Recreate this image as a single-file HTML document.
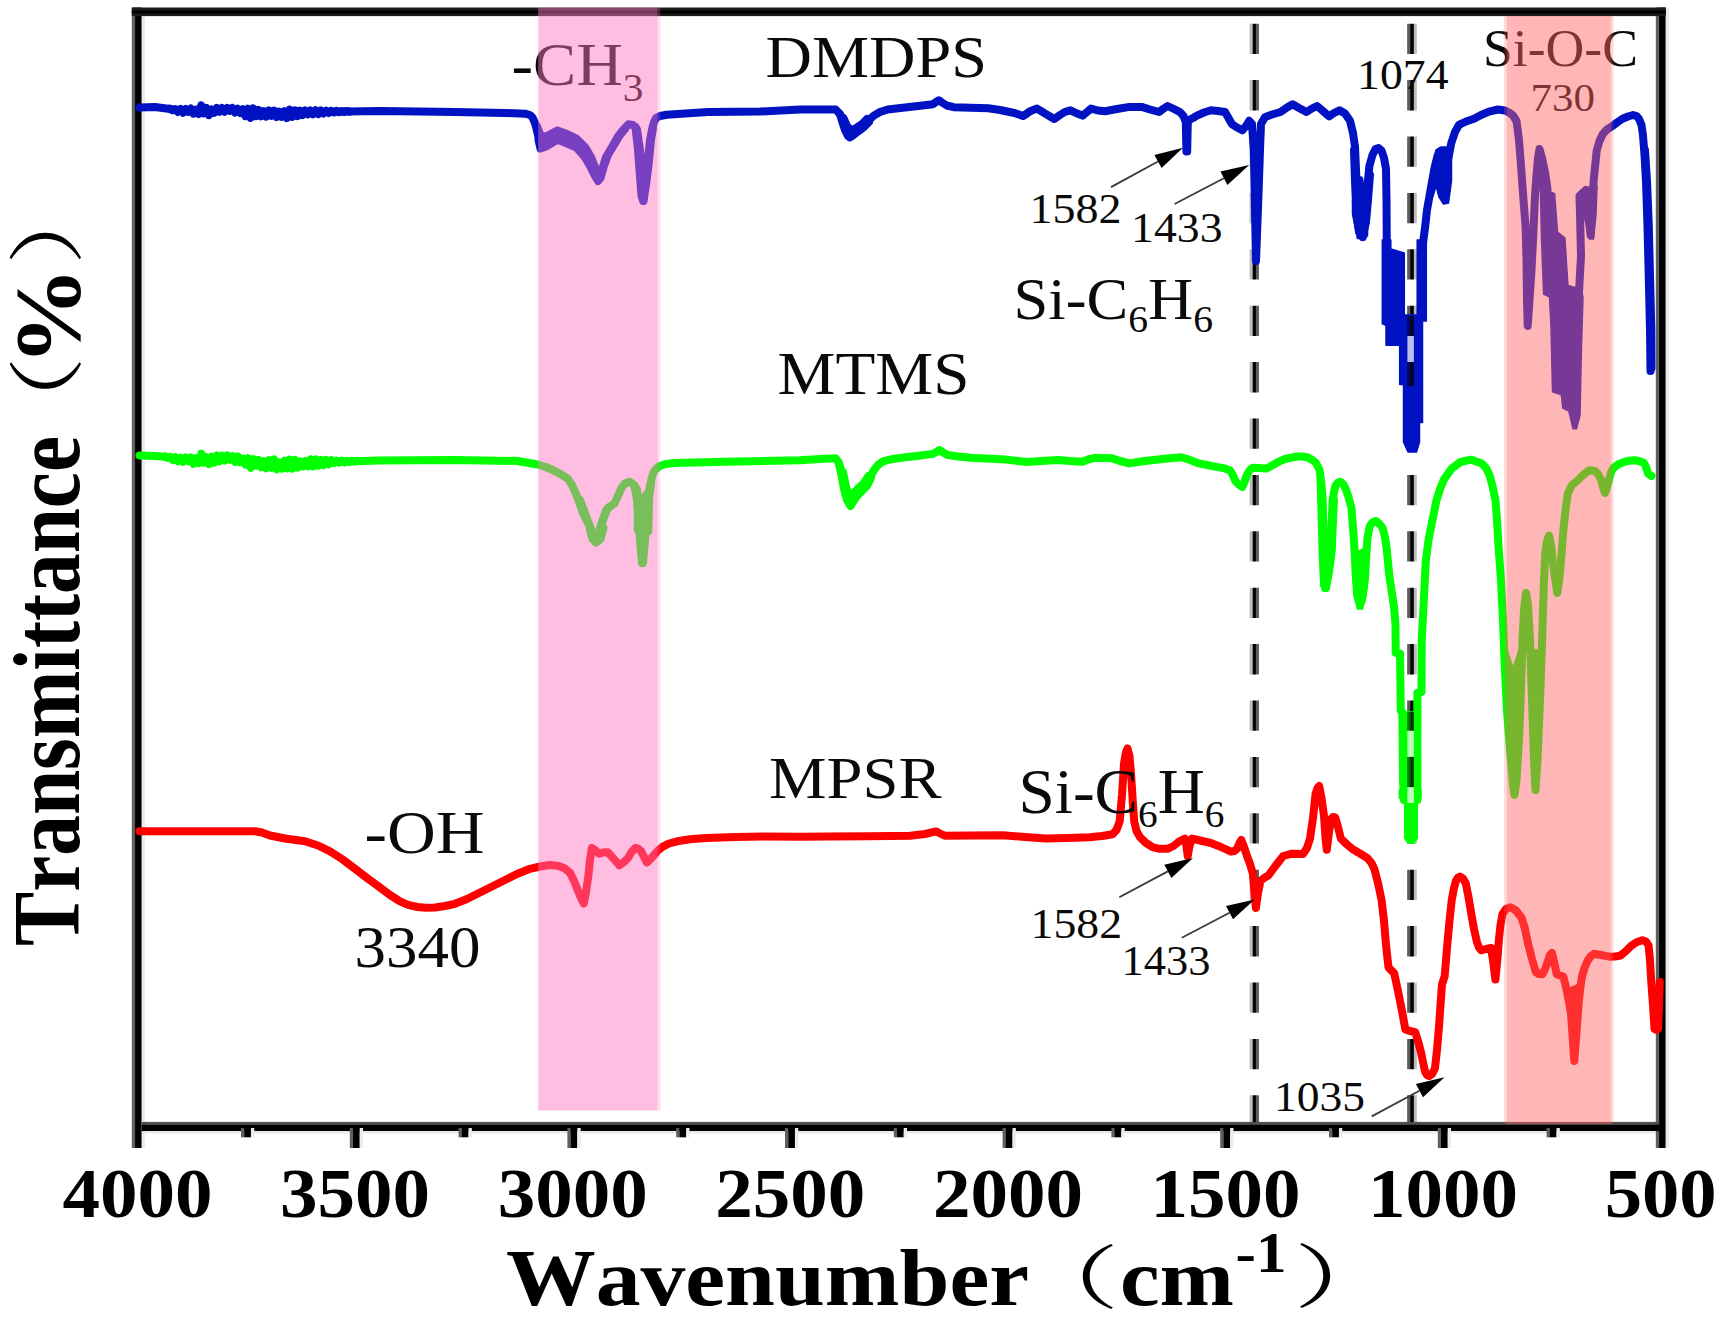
<!DOCTYPE html>
<html lang="en"><head><meta charset="utf-8"><title>FTIR spectra</title>
<style>html,body{margin:0;padding:0;background:#fff;}body{width:1728px;height:1319px;overflow:hidden;}svg{display:block;}text{font-family:"Liberation Serif","Noto Serif CJK SC",serif;fill:#0a0a0a;font-kerning:none;}.b{font-weight:bold;fill:#000;}.cjk{font-family:"Liberation Serif","Noto Serif CJK SC",serif;font-weight:400;fill:#000;}</style></head><body>
<svg width="1728" height="1319" viewBox="0 0 1728 1319">
<rect width="1728" height="1319" fill="#fff"/>
<g id="frame">
<rect x="131.80" y="7.5" width="3.4" height="1140.5" fill="#5f5f5f"/><rect x="135.05" y="7.5" width="6.7" height="1140.5" fill="#000"/><rect x="141.75" y="7.5" width="3.3" height="1140.5" fill="#ececec"/>
<rect x="1655.80" y="7.5" width="3.4" height="1140.5" fill="#5f5f5f"/><rect x="1659.05" y="7.5" width="6.7" height="1140.5" fill="#000"/><rect x="1665.75" y="7.5" width="3.3" height="1140.5" fill="#ececec"/>
<rect x="131.8" y="7.5" width="1534" height="8.6" fill="#1c1c1c"/>
<rect x="131.8" y="10.4" width="1534" height="3" fill="#000"/>
<rect x="141.6" y="1121.9" width="1517.5" height="3" fill="#505050"/>
<rect x="141.6" y="1124.7" width="1517.5" height="6.4" fill="#000"/>
<rect x="145" y="1131.1" width="1510" height="2.4" fill="#e8e8e8"/>
</g>
<g id="ticks">
<rect x="349.80" y="1128" width="3.4" height="20" fill="#5f5f5f"/><rect x="353.05" y="1128" width="6.7" height="20" fill="#000"/><rect x="359.75" y="1128" width="3.3" height="20" fill="#ececec"/>
<rect x="567.40" y="1128" width="3.4" height="20" fill="#5f5f5f"/><rect x="570.65" y="1128" width="6.7" height="20" fill="#000"/><rect x="577.35" y="1128" width="3.3" height="20" fill="#ececec"/>
<rect x="785.00" y="1128" width="3.4" height="20" fill="#5f5f5f"/><rect x="788.25" y="1128" width="6.7" height="20" fill="#000"/><rect x="794.95" y="1128" width="3.3" height="20" fill="#ececec"/>
<rect x="1002.60" y="1128" width="3.4" height="20" fill="#5f5f5f"/><rect x="1005.85" y="1128" width="6.7" height="20" fill="#000"/><rect x="1012.55" y="1128" width="3.3" height="20" fill="#ececec"/>
<rect x="1220.20" y="1128" width="3.4" height="20" fill="#5f5f5f"/><rect x="1223.45" y="1128" width="6.7" height="20" fill="#000"/><rect x="1230.15" y="1128" width="3.3" height="20" fill="#ececec"/>
<rect x="1437.80" y="1128" width="3.4" height="20" fill="#5f5f5f"/><rect x="1441.05" y="1128" width="6.7" height="20" fill="#000"/><rect x="1447.75" y="1128" width="3.3" height="20" fill="#ececec"/>
<rect x="241.00" y="1128" width="3.4" height="9.299999999999955" fill="#5f5f5f"/><rect x="244.25" y="1128" width="6.7" height="9.299999999999955" fill="#000"/><rect x="250.95" y="1128" width="3.3" height="9.299999999999955" fill="#ececec"/>
<rect x="458.60" y="1128" width="3.4" height="9.299999999999955" fill="#5f5f5f"/><rect x="461.85" y="1128" width="6.7" height="9.299999999999955" fill="#000"/><rect x="468.55" y="1128" width="3.3" height="9.299999999999955" fill="#ececec"/>
<rect x="676.20" y="1128" width="3.4" height="9.299999999999955" fill="#5f5f5f"/><rect x="679.45" y="1128" width="6.7" height="9.299999999999955" fill="#000"/><rect x="686.15" y="1128" width="3.3" height="9.299999999999955" fill="#ececec"/>
<rect x="893.80" y="1128" width="3.4" height="9.299999999999955" fill="#5f5f5f"/><rect x="897.05" y="1128" width="6.7" height="9.299999999999955" fill="#000"/><rect x="903.75" y="1128" width="3.3" height="9.299999999999955" fill="#ececec"/>
<rect x="1111.40" y="1128" width="3.4" height="9.299999999999955" fill="#5f5f5f"/><rect x="1114.65" y="1128" width="6.7" height="9.299999999999955" fill="#000"/><rect x="1121.35" y="1128" width="3.3" height="9.299999999999955" fill="#ececec"/>
<rect x="1329.00" y="1128" width="3.4" height="9.299999999999955" fill="#5f5f5f"/><rect x="1332.25" y="1128" width="6.7" height="9.299999999999955" fill="#000"/><rect x="1338.95" y="1128" width="3.3" height="9.299999999999955" fill="#ececec"/>
<rect x="1546.60" y="1128" width="3.4" height="9.299999999999955" fill="#5f5f5f"/><rect x="1549.85" y="1128" width="6.7" height="9.299999999999955" fill="#000"/><rect x="1556.55" y="1128" width="3.3" height="9.299999999999955" fill="#ececec"/>
</g>
<g id="labels-under">
<text x="511.5" y="85" font-size="61" textLength="132" lengthAdjust="spacingAndGlyphs">-CH<tspan font-size="39" dy="15.5">3</tspan></text>
<text x="1483" y="65.7" font-size="52" textLength="155" lengthAdjust="spacingAndGlyphs">Si-O-C</text>
<text x="1530.5" y="111.3" font-size="39" textLength="64.5" lengthAdjust="spacingAndGlyphs">730</text>
</g>
<g id="dashes" stroke="#000" stroke-dasharray="30.3 26.1" fill="none">
<line x1="1251.15" y1="23.7" x2="1251.15" y2="1122" stroke-width="3.1" stroke-opacity="0.26"/>
<line x1="1254.3" y1="23.7" x2="1254.3" y2="1122" stroke-width="3.3"/>
<line x1="1257.4" y1="23.7" x2="1257.4" y2="1122" stroke-width="3.1" stroke-opacity="0.64"/>
<line x1="1408.7" y1="23.7" x2="1408.7" y2="1122" stroke-width="3.1" stroke-opacity="0.64"/>
<line x1="1412" y1="23.7" x2="1412" y2="1122" stroke-width="3.7"/>
<line x1="1415.3" y1="23.7" x2="1415.3" y2="1122" stroke-width="3.1" stroke-opacity="0.26"/>
</g>
<g id="red" fill="none" stroke="#ff0000" stroke-width="8.0" stroke-linejoin="round" stroke-linecap="round">
<polyline points="139.5,831.3 200.0,831.3 255.0,831.3 262.0,832.5 270.0,835.5 285.0,838.5 305.0,841.3 318.0,845.5 330.0,851.3 342.0,859.0 355.0,868.8 367.0,878.0 380.0,887.5 390.0,895.0 400.0,901.3 408.0,904.8 417.5,907.0 426.0,907.8 435.0,907.5 445.0,906.0 455.0,903.8 467.0,899.0 480.0,892.5 492.0,886.5 505.0,880.0 517.0,874.0 530.0,868.8 540.0,866.5 550.0,865.0 558.6,866.0 564.0,868.0 570.0,872.6 574.5,882.0 578.8,892.8 581.5,899.0 583.8,903.5 586.0,892.0 588.4,875.5 590.0,860.0 591.9,848.0 595.0,850.0 599.0,853.8 603.0,852.5 607.8,852.3 613.0,858.0 619.4,865.4 624.0,862.0 628.0,858.0 631.5,852.0 635.3,848.0 638.0,848.5 641.0,851.0 644.0,857.0 646.8,862.5 650.0,859.5 654.0,855.2 658.0,850.5 662.8,846.6 669.0,843.5 677.2,841.3 690.0,839.3 706.2,837.9 735.0,837.0 764.0,836.4 800.0,836.8 830.0,836.5 870.0,836.2 910.0,835.7 925.0,834.0 936.0,831.4 940.0,833.5 944.7,835.7 970.0,835.5 1002.5,835.2 1025.0,837.0 1046.0,838.6 1068.0,838.0 1089.4,837.2 1102.0,836.0 1112.5,834.3 1116.5,830.0 1119.7,821.3 1122.0,795.0 1124.0,763.4 1126.0,752.0 1127.5,748.5 1129.5,756.0 1131.3,777.9 1133.0,805.0 1134.2,821.3 1136.5,831.0 1140.0,837.2 1146.0,843.0 1153.0,847.3 1160.0,848.8 1167.5,848.8 1173.5,846.0 1179.0,841.5 1184.8,838.6 1186.5,846.0 1187.7,856.0 1189.5,846.0 1192.0,838.6 1200.0,840.5 1210.9,843.0 1221.0,847.0 1231.0,851.7 1234.5,851.0 1237.0,848.8 1239.5,843.0 1241.3,840.0 1244.0,847.0 1247.0,856.0 1250.0,864.0 1252.8,873.4 1254.5,892.0 1255.9,908.0 1258.0,893.0 1260.5,881.0 1264.0,878.0 1268.4,875.5 1275.0,866.5 1283.2,856.0 1292.0,853.7 1303.0,854.0 1307.0,848.0 1310.0,838.6 1313.0,818.0 1315.6,793.7 1317.5,788.0 1319.2,786.0 1321.5,798.0 1324.0,816.0 1325.5,838.0 1326.8,849.8 1329.0,832.0 1331.0,819.0 1333.0,817.0 1335.2,817.5 1338.0,827.0 1340.9,838.6 1347.0,844.5 1353.5,849.8 1360.0,853.5 1367.5,858.2 1371.5,863.0 1374.5,869.5 1378.0,883.0 1381.6,900.3 1384.0,921.0 1385.8,942.4 1387.3,957.0 1388.6,967.7 1391.5,970.5 1394.2,973.3 1396.3,983.0 1398.4,993.0 1402.0,1011.0 1405.4,1029.4 1410.0,1031.0 1415.2,1032.2 1418.0,1041.0 1420.9,1051.9 1423.0,1062.0 1425.0,1071.5 1427.0,1075.0 1429.3,1076.0 1432.0,1074.0 1434.9,1068.7 1437.0,1050.0 1439.0,1026.6 1440.5,1005.0 1442.0,984.5 1444.7,976.0 1446.0,960.0 1447.5,942.4 1449.5,921.0 1451.7,900.3 1454.0,888.0 1456.0,880.7 1458.0,877.5 1460.0,876.5 1463.0,878.5 1465.8,883.5 1468.5,897.0 1471.4,914.4 1474.0,929.0 1477.0,942.4 1479.0,947.5 1481.2,950.3 1486.0,949.0 1491.0,948.0 1493.0,960.0 1495.4,979.5 1497.3,960.0 1498.9,939.6 1500.5,925.0 1502.5,914.0 1506.0,909.0 1510.5,907.3 1516.0,910.5 1521.7,918.0 1525.0,929.0 1528.0,943.5 1532.0,959.0 1535.8,972.0 1539.0,974.0 1542.4,974.3 1545.5,968.0 1547.9,961.0 1550.0,955.0 1551.9,953.0 1554.0,961.0 1556.7,974.3 1560.0,975.5 1563.3,976.5 1566.0,987.0 1568.8,1000.7 1571.0,1013.8 1572.5,1035.0 1574.3,1061.0 1576.3,1035.0 1578.7,1002.9 1580.3,988.0 1582.0,976.5 1584.5,968.0 1587.5,961.0 1590.5,956.5 1594.0,953.8 1601.0,955.0 1609.5,956.7 1615.0,956.5 1620.4,955.6 1626.0,951.0 1631.4,945.7 1637.0,942.0 1642.4,940.2 1646.0,941.5 1648.6,945.7 1650.0,960.0 1651.2,980.9 1653.0,1005.0 1654.5,1029.0 1656.5,1030.0 1658.0,1029.0 1659.0,1005.0 1659.8,982.0"/>
<polygon points="1565.0,985.0 1570.0,988.0 1577.0,985.0 1579.0,1003.0 1577.0,1020.0 1571.0,1020.0 1568.0,1003.0" fill="#ff0000" stroke-width="1.5"/>
</g>
<g id="green" fill="none" stroke="#00ff00" stroke-width="8.0" stroke-linejoin="round" stroke-linecap="round">
<polyline points="139.5,455.5 155.0,456.0 167.5,457.0 180.0,460.0 190.0,459.0 196.0,461.5 202.5,458.0 208.0,461.5 215.0,459.0 230.0,457.5 240.0,460.0 250.0,463.0 257.0,461.5 263.0,465.0 270.0,463.0 280.0,465.5 290.0,464.5 300.0,464.0 330.0,462.0 380.0,460.5 455.0,460.0 517.5,461.0 537.5,464.5 546.0,467.0 555.0,471.0 562.0,475.0 567.7,478.5 572.0,485.0 576.4,494.7 583.3,513.8 590.3,527.6 593.0,535.0 595.5,542.0 598.0,535.0 602.4,520.7 606.0,510.3 610.0,506.5 614.6,503.3 618.0,496.0 621.5,487.7 625.0,483.5 629.3,481.6 633.0,484.0 637.0,489.4 639.0,510.0 640.6,531.0 642.4,563.0 644.0,545.0 645.8,531.0 647.5,510.0 649.3,489.4 651.5,479.0 653.6,472.0 656.5,468.5 659.7,466.0 666.0,464.0 673.6,463.0 725.7,461.7 774.3,460.8 800.0,460.3 820.0,459.0 835.6,458.2 838.5,462.0 840.8,468.6 843.0,478.0 845.0,489.4 847.5,498.0 850.3,504.0 853.0,499.0 856.4,493.0 861.0,489.0 866.8,484.2 870.0,478.0 873.8,470.3 878.0,465.0 882.4,461.7 890.0,459.5 901.5,457.8 917.0,456.0 932.8,453.9 936.5,452.0 939.7,450.0 943.0,452.3 946.7,454.7 958.0,456.5 971.0,457.8 1005.7,459.6 1026.5,462.0 1042.0,461.0 1057.8,460.0 1070.0,461.0 1082.6,461.7 1088.0,459.5 1094.7,457.8 1112.0,458.2 1120.0,461.0 1129.4,463.4 1141.0,461.5 1153.7,460.0 1167.0,458.5 1181.5,457.3 1190.0,460.0 1198.9,463.4 1207.0,465.0 1216.2,466.9 1223.0,468.0 1230.0,470.3 1232.8,475.0 1235.3,480.8 1238.5,484.5 1242.3,487.0 1244.5,482.0 1246.6,475.6 1249.5,470.5 1252.7,467.7 1259.0,468.0 1266.6,468.6 1272.0,465.5 1278.8,461.7 1285.0,459.0 1292.6,457.3 1298.0,456.5 1303.0,456.5 1308.0,457.5 1312.0,459.7 1316.0,463.0 1319.7,470.3 1321.5,485.0 1322.7,500.6 1323.8,540.0 1325.0,588.0 1327.0,575.0 1330.3,561.0 1331.5,530.0 1332.6,500.6 1334.0,492.0 1335.6,485.5 1338.0,482.5 1340.2,481.7 1343.0,484.0 1345.5,488.5 1348.5,497.0 1351.5,508.2 1353.8,538.5 1356.0,576.4 1358.0,595.0 1360.0,603.0"/>
<polyline points="1362.0,600.0 1365.0,576.4 1367.4,538.5 1369.7,526.4 1372.5,522.5 1375.8,521.0 1379.0,523.5 1382.6,528.0 1384.5,535.0 1386.4,546.0 1389.4,576.4 1394.0,606.7 1395.5,625.0 1395.7,652.8 1400.0,653.5 1400.8,711.0 1402.3,712.0 1403.0,780.0 1404.0,800.0"/>
<polyline points="1417.4,800.0 1417.4,693.0 1421.5,692.0 1421.7,640.0 1423.5,606.7 1425.8,561.0 1428.5,540.0 1431.8,523.3 1436.4,500.6 1440.0,489.0 1444.0,479.4 1451.5,468.8 1460.6,462.0 1471.2,459.7 1481.8,463.5 1486.0,468.0 1489.4,474.8 1492.5,486.0 1495.5,500.6 1497.0,520.0 1498.5,546.0 1501.0,580.0 1503.0,620.0 1504.5,660.0 1507.0,711.0 1510.0,750.0 1513.0,785.0 1514.5,795.0 1516.5,780.0 1519.0,740.0 1521.0,690.0 1522.5,640.0 1524.0,610.0 1526.0,593.0 1528.0,605.0 1530.0,640.0 1532.0,700.0 1534.0,760.0 1535.5,790.0 1537.5,760.0 1540.0,700.0 1542.0,645.0 1543.6,591.5 1545.2,553.6 1547.0,541.0 1549.0,535.5 1551.0,545.0 1552.7,561.0 1555.0,578.0 1557.3,593.0 1559.5,578.0 1561.0,561.0 1563.3,531.0 1565.5,510.0 1568.0,493.0 1572.0,485.0 1577.0,481.0 1583.0,475.0 1589.0,470.3 1595.0,471.0 1598.0,474.0 1601.0,479.4 1603.0,487.0 1605.0,493.0 1607.0,487.0 1609.0,479.4 1611.0,472.5 1613.3,468.0 1618.0,464.5 1624.0,462.0 1629.0,460.7 1634.5,460.2 1639.0,461.0 1643.7,462.7 1646.0,467.0 1648.0,473.3 1651.5,476.0"/>
<polyline points="1320.5,480.0 1321.5,510.0 1322.5,550.0 1324.0,585.0"/>
<polyline points="1326.0,588.0 1329.0,572.0 1331.8,550.0 1333.0,520.0 1334.0,500.0"/>
<polyline points="165.0,456.5 167.6,457.9 170.2,456.8 172.8,459.9 175.4,457.3 178.0,461.4 180.6,457.8 183.2,461.7 185.8,457.5 188.4,461.1 191.0,457.4 193.6,463.9 196.2,458.1 198.8,463.2 201.4,453.5 204.0,462.6 206.6,457.1 209.2,464.1 211.8,456.7 214.4,462.5 217.0,455.4 219.6,461.3 222.2,455.6 224.8,460.5 227.4,455.3 230.0,459.7 232.6,456.1 235.2,461.8 237.8,456.3 240.4,462.4 243.0,458.8 245.6,464.6 248.2,458.1 250.8,467.8 253.4,459.2 256.0,465.7 258.6,459.8 261.2,467.3 263.8,461.2 266.4,468.3 269.0,460.1 271.6,467.8 274.2,459.4 276.8,469.3 279.4,462.7 282.0,468.5 284.6,460.7 287.2,468.5 289.8,459.5 292.4,468.6 295.0,459.9 297.6,467.6 300.2,461.5 302.8,466.4 305.4,461.1 308.0,466.3 310.6,459.3 313.2,466.5 315.8,459.3 318.4,465.7 321.0,459.9 323.6,465.1 326.2,459.8 328.8,464.2 331.4,460.2 334.0,463.0 336.6,460.6 339.2,462.6 341.8,460.7 344.4,462.5 347.0,460.9 349.6,461.9 352.2,460.8 354.8,461.6 357.4,460.8"/>
<polyline points="839.0,464.0 841.5,475.0 844.0,489.0 847.0,500.0 850.5,506.0 853.0,502.0 857.0,496.0 862.0,491.0 867.0,486.0 871.0,478.0"/>
<polyline points="843.0,472.0 846.0,487.0 849.5,497.0 853.0,494.0 858.0,488.5 864.0,483.0 868.5,476.0"/>
<polyline points="634.5,486.0 637.0,500.0 638.8,520.0 640.3,545.0 642.2,563.0"/>
<polyline points="642.6,563.0 644.6,545.0 646.6,520.0 648.5,500.0 651.0,484.0"/>
<polyline points="580.0,500.0 586.0,516.0 591.0,529.0 595.0,540.0"/>
<polyline points="597.0,540.0 600.0,530.0 604.0,517.0 608.0,508.0"/>
<polyline points="590.0,530.0 592.5,539.0 596.0,542.5 600.5,539.0 603.5,528.0"/>
<polygon points="1352.5,546.0 1359.0,551.0 1368.5,546.0 1368.0,580.0 1366.0,596.0 1362.5,609.0 1357.5,609.0 1354.0,596.0 1352.5,575.0" fill="#00ff00" stroke-width="1.5"/>
<polygon points="1399.3,790.0 1421.0,790.0 1421.0,798.0 1417.3,803.0 1417.3,838.0 1414.0,843.0 1408.0,843.0 1404.7,838.0 1404.7,803.0 1399.3,798.0" fill="#00ff00" stroke-width="1.5"/>
<polygon points="1402.3,712.0 1417.4,712.0 1417.4,800.0 1404.0,800.0 1403.0,780.0" fill="#00ff00" stroke-width="1.5"/>
<polygon points="1504.0,640.0 1513.0,668.0 1522.3,640.0 1521.0,690.0 1519.0,740.0 1516.5,780.0 1514.5,797.0 1512.0,780.0 1509.0,740.0 1506.5,700.0 1504.5,660.0" fill="#00ff00" stroke-width="1.5"/>
<polygon points="1530.5,650.0 1532.0,700.0 1534.0,760.0 1535.5,790.0 1537.5,760.0 1540.0,700.0 1541.8,650.0" fill="#00ff00" stroke-width="1.5"/>
<polygon points="634.5,490.0 637.5,490.0 641.5,496.0 646.0,490.0 652.5,490.0 651.5,533.0 646.5,536.0 646.5,563.0 639.0,563.0 639.0,536.0 634.5,531.0" fill="#00ff00" stroke-width="1.5"/>
</g>
<g id="blue" fill="none" stroke="#0012c2" stroke-width="8.0" stroke-linejoin="round" stroke-linecap="round">
<polyline points="139.5,107.5 155.0,107.0 170.0,109.0 180.0,111.0 190.0,110.0 196.0,112.0 202.0,109.0 208.0,112.5 215.0,110.0 230.0,109.5 240.0,111.0 250.0,113.7 256.0,112.0 262.0,114.5 270.0,113.0 280.0,114.5 290.0,113.7 300.0,113.0 330.0,111.7 380.0,111.0 455.0,112.0 505.0,113.0 525.0,113.7 530.0,115.0 532.5,117.5 535.0,123.0 537.5,133.0 540.0,143.0 546.0,141.0 557.3,134.7 566.0,138.0 576.4,143.3 585.0,152.0 592.0,162.4 596.0,172.0 599.0,179.0 602.0,170.0 606.0,157.0 612.0,147.0 618.0,136.4 623.0,130.0 628.5,124.2 633.0,125.0 637.0,129.4 640.0,150.0 641.5,164.0 643.2,199.0 645.5,180.0 647.6,164.0 650.0,140.0 652.0,129.4 654.0,122.0 656.0,118.0 660.0,116.0 666.7,114.7 708.0,112.0 760.0,111.5 800.0,109.5 835.6,109.5 839.0,113.0 842.5,119.0 846.0,128.0 849.4,133.5 855.0,131.0 861.6,127.7 868.0,121.0 873.8,115.6 880.0,112.0 887.6,109.5 905.0,107.5 922.4,105.5 932.8,104.3 936.0,102.0 938.9,100.3 942.0,102.5 946.7,105.5 953.6,107.2 988.3,108.3 1000.0,110.0 1014.4,113.0 1023.0,116.0 1027.0,113.5 1030.0,111.2 1037.0,108.6 1041.0,111.0 1045.6,113.8 1054.3,119.0 1060.0,115.0 1064.7,112.0 1070.4,110.3 1076.0,113.0 1082.6,115.6 1087.0,112.0 1091.0,108.6 1098.0,110.5 1105.0,111.2 1117.0,109.0 1129.4,106.9 1141.6,106.9 1150.0,109.5 1159.0,112.0 1163.0,109.0 1167.6,106.0 1174.0,109.0 1179.8,112.0 1183.5,116.0 1185.8,122.0 1186.4,151.5 1187.2,151.5 1187.8,122.0 1190.0,119.5 1193.0,118.0 1197.0,115.6 1204.0,112.5 1211.0,110.3 1218.0,111.0 1225.0,112.0 1228.5,118.0 1231.9,124.2 1237.0,127.5 1242.3,130.3 1246.0,126.0 1249.2,120.8 1252.0,124.0 1253.8,150.0 1254.8,200.0 1256.0,261.0 1258.3,200.0 1260.0,150.0 1261.0,124.0 1264.9,117.3 1272.0,114.5 1280.5,112.0 1287.0,107.5 1292.6,104.3 1299.0,108.0 1306.5,112.0 1312.0,108.5 1317.0,106.0 1323.0,111.0 1329.0,116.4 1334.0,113.0 1339.5,110.3 1345.0,113.5 1350.0,120.8 1353.0,133.0 1355.0,146.8 1356.5,181.0 1358.0,205.0 1359.5,180.0 1361.0,225.0 1362.6,236.0 1364.5,215.0 1366.0,200.0 1369.4,165.8 1372.5,155.0 1375.5,149.0 1378.5,148.0 1381.6,150.7 1384.0,158.0 1386.0,168.8 1386.5,200.0 1386.8,249.0 1386.5,322.0"/>
<polyline points="1421.7,300.0 1422.0,262.0 1423.0,243.0 1425.0,228.0 1427.0,210.0 1429.5,196.0 1432.0,182.0 1434.5,168.0 1437.5,156.0 1441.0,151.5 1445.0,151.0 1448.0,153.0"/>
<polyline points="1448.0,160.0 1451.3,143.0 1455.0,132.0 1458.9,124.9 1466.0,121.5 1474.0,118.8 1481.0,115.0 1489.0,111.6 1498.0,109.5 1505.0,110.5 1509.0,112.5 1513.0,115.5 1516.5,121.0 1519.0,140.0 1521.0,165.8 1523.5,200.0 1525.6,226.5 1526.5,260.0 1527.0,300.0 1527.7,326.0 1529.5,300.0 1531.5,270.0 1533.5,230.0 1535.0,196.0 1536.5,175.0 1538.0,158.0 1539.5,149.0 1542.0,158.0 1545.0,172.0 1547.5,189.0"/>
<polyline points="1579.0,292.0 1581.0,256.0 1580.0,214.0 1579.5,196.0 1586.0,190.0 1590.6,235.0 1593.6,181.0 1596.7,150.6 1599.5,141.0 1602.8,134.0 1607.0,129.5 1611.9,126.4 1617.0,122.5 1622.5,118.8 1628.0,116.5 1633.0,115.0 1636.5,116.0 1639.0,118.8 1641.5,125.0 1643.0,135.5 1644.5,155.0 1646.0,181.0 1647.5,226.4 1649.0,287.0 1650.0,330.0 1650.5,371.0"/>
<polyline points="537.0,126.0 539.5,133.0 542.0,137.0 547.0,136.0 557.3,130.5 566.0,133.5 576.4,138.5 585.0,147.0 591.0,157.0 595.0,167.0 597.5,174.0"/>
<polyline points="538.5,140.0 540.5,148.5 546.0,146.5 557.3,139.8 566.0,143.0 576.4,147.5 584.0,156.0 590.0,166.0 594.5,175.0 598.0,181.0"/>
<polyline points="600.5,178.0 604.0,166.0 608.0,155.0 614.0,145.0 620.0,135.0 625.0,129.0"/>
<polyline points="635.5,127.0 638.0,150.0 639.5,170.0 641.5,196.0 643.2,201.0"/>
<polyline points="643.5,201.0 646.0,185.0 648.5,165.0 651.0,140.0 653.0,128.0"/>
<polyline points="1354.0,150.0 1355.0,181.0 1356.5,215.0 1359.0,232.0 1362.6,237.0"/>
<polyline points="1362.6,237.0 1366.0,222.0 1368.0,200.0 1370.0,175.0"/>
<polyline points="1645.0,150.0 1647.0,181.0 1648.8,226.0 1650.3,287.0 1651.3,330.0 1651.5,368.0"/>
<polyline points="170.0,108.6 172.6,110.3 175.2,109.1 177.8,111.9 180.4,109.0 183.0,112.8 185.6,109.0 188.2,111.8 190.8,108.6 193.4,113.6 196.0,109.7 198.6,114.0 201.2,105.3 203.8,113.4 206.4,107.9 209.0,115.2 211.6,109.3 214.2,112.7 216.8,108.0 219.4,111.8 222.0,108.0 224.6,111.7 227.2,107.9 229.8,110.8 232.4,108.1 235.0,112.5 237.6,108.7 240.2,113.0 242.8,109.3 245.4,116.2 248.0,108.7 250.6,117.8 253.2,108.4 255.8,116.1 258.4,110.0 261.0,116.4 263.6,111.1 266.2,116.7 268.8,110.4 271.4,115.9 274.0,110.6 276.6,117.1 279.2,111.7 281.8,116.9 284.4,111.2 287.0,118.1 289.6,109.6 292.2,116.9 294.8,110.3 297.4,116.2 300.0,110.6 302.6,115.1 305.2,110.4 307.8,114.4 310.4,110.5 313.0,114.3 315.6,110.3 318.2,114.1 320.8,110.4 323.4,113.5 326.0,110.7 328.6,113.0 331.2,110.8 333.8,112.5 336.4,110.9 339.0,112.2 341.6,111.1 344.2,111.9 346.8,111.0 349.4,111.7"/>
<polyline points="840.0,114.0 842.0,121.0 845.0,130.0 848.0,136.0 850.0,137.5 853.0,135.5 858.0,131.5 864.0,127.0 869.0,122.0"/>
<polyline points="843.5,118.0 847.0,126.0 851.0,130.5 856.0,128.0 862.0,124.0 867.0,119.0"/>
<polygon points="1382.3,240.0 1390.8,240.0 1390.8,249.0 1404.3,253.0 1404.3,315.0 1417.2,315.0 1417.2,240.0 1426.3,240.0 1426.3,321.0 1422.5,321.0 1422.5,422.5 1419.5,422.5 1419.5,442.0 1416.5,452.0 1408.0,452.0 1403.5,442.0 1403.5,384.6 1399.7,384.6 1399.7,345.2 1386.0,345.2 1386.0,324.0 1382.3,324.0" fill="#0012c2" stroke-width="1.5"/>
<polygon points="1431.0,172.0 1436.0,150.0 1441.0,147.0 1451.5,147.0 1451.5,181.0 1448.5,203.0 1443.5,204.0 1439.0,197.0 1436.0,186.0 1433.0,196.0" fill="#0012c2" stroke-width="1.5"/>
<polygon points="1539.2,146.0 1545.1,166.9 1548.0,190.6 1554.6,193.6 1557.5,232.0 1564.9,237.9 1567.9,285.3 1574.7,287.6 1580.0,283.8 1583.0,297.0 1581.5,344.4 1580.0,415.4 1576.5,428.8 1573.0,428.8 1568.8,411.0 1562.8,408.0 1561.4,394.7 1552.5,391.8 1551.0,326.7 1549.5,297.1 1543.6,294.1 1541.5,238.0 1540.5,193.6 1538.0,170.0" fill="#0012c2" stroke-width="1.5"/>
<polygon points="1578.0,196.0 1580.0,191.0 1592.0,186.0 1597.0,186.0 1596.0,215.0 1593.5,239.0 1589.5,239.0 1587.0,228.0 1584.5,218.0 1582.0,212.0" fill="#0012c2" stroke-width="1.5"/>
<polygon points="1352.5,200.0 1357.0,190.0 1368.0,185.0 1367.5,236.0 1357.5,238.5 1355.0,226.0 1352.5,214.0" fill="#0012c2" stroke-width="1.5"/>
</g>
<rect id="band-ch3" x="538.2" y="7.5" width="119.3" height="1103" fill="rgb(255,117,191)" fill-opacity="0.47"/>
<rect x="657.5" y="7.5" width="2.8" height="1103" fill="rgb(255,117,191)" fill-opacity="0.25"/>
<rect id="band-sioc" x="1506.6" y="16" width="104.6" height="1108" fill="rgb(255,100,100)" fill-opacity="0.47"/>
<rect x="1504" y="16" width="2.6" height="1108" fill="rgb(255,100,100)" fill-opacity="0.22"/>
<rect x="1611.2" y="16" width="2.4" height="1108" fill="rgb(255,100,100)" fill-opacity="0.22"/>
<g id="dash-overlay">
<rect x="1407.2" y="316.0" width="3.1" height="20.0" fill="#000" fill-opacity="0.5"/>
<rect x="1410.2" y="316.0" width="3.7" height="20.0" fill="#000" fill-opacity="0.8"/>
<rect x="1407.4" y="336.0" width="6.5" height="26.1" fill="#fff" fill-opacity="0.72"/>
<rect x="1407.2" y="362.1" width="3.1" height="23.9" fill="#000" fill-opacity="0.5"/>
<rect x="1410.2" y="362.1" width="3.7" height="23.9" fill="#000" fill-opacity="0.8"/>
<rect x="1407.2" y="712.0" width="3.1" height="18.8" fill="#000" fill-opacity="0.5"/>
<rect x="1410.2" y="712.0" width="3.7" height="18.8" fill="#000" fill-opacity="0.8"/>
<rect x="1407.4" y="730.8" width="6.5" height="26.1" fill="#fff" fill-opacity="0.72"/>
<rect x="1407.2" y="756.9" width="3.1" height="30.3" fill="#000" fill-opacity="0.5"/>
<rect x="1410.2" y="756.9" width="3.7" height="30.3" fill="#000" fill-opacity="0.8"/>
<rect x="1407.4" y="787.2" width="6.5" height="15.8" fill="#fff" fill-opacity="0.72"/>
</g>
<polygon points="1403.5,386 1419.5,386 1419.5,442 1416.5,452 1408,452 1403.5,442" fill="#0012c2"/>
<polygon points="1404.7,803 1417.3,803 1417.3,838 1414,843 1408,843 1404.7,838" fill="#00ff00"/>
<g id="arrows">
<line x1="1111.0" y1="187.1" x2="1158.0" y2="161.5" stroke="#3a3a3a" stroke-width="1.8"/><polygon points="1183.0,147.8 1161.6,168.0 1154.4,154.9" fill="#000"/>
<line x1="1174.6" y1="204.0" x2="1223.9" y2="178.2" stroke="#3a3a3a" stroke-width="1.8"/><polygon points="1249.2,165.0 1227.4,184.9 1220.5,171.6" fill="#000"/>
<line x1="1119.3" y1="897.2" x2="1167.8" y2="871.4" stroke="#3a3a3a" stroke-width="1.8"/><polygon points="1193.0,858.0 1171.4,878.0 1164.3,864.8" fill="#000"/>
<line x1="1181.8" y1="937.8" x2="1229.5" y2="912.7" stroke="#3a3a3a" stroke-width="1.8"/><polygon points="1254.7,899.4 1233.0,919.3 1226.0,906.0" fill="#000"/>
<line x1="1371.7" y1="1116.4" x2="1419.4" y2="1090.7" stroke="#3a3a3a" stroke-width="1.8"/><polygon points="1444.5,1077.2 1423.0,1097.3 1415.9,1084.1" fill="#000"/>
</g>
<g id="labels">
<text x="765.5" y="77" font-size="60" textLength="221.5" lengthAdjust="spacingAndGlyphs">DMDPS</text>
<text x="777.5" y="394" font-size="61" textLength="192" lengthAdjust="spacingAndGlyphs">MTMS</text>
<text x="769" y="798" font-size="60" textLength="172.5" lengthAdjust="spacingAndGlyphs">MPSR</text>
<text x="1029.5" y="222.8" font-size="42" textLength="92" lengthAdjust="spacingAndGlyphs">1582</text>
<text x="1131" y="242.2" font-size="42" textLength="91.5" lengthAdjust="spacingAndGlyphs">1433</text>
<text x="1013.5" y="318.9" font-size="60" textLength="199.5" lengthAdjust="spacingAndGlyphs">Si-C<tspan font-size="38" dy="13">6</tspan><tspan dy="-13">H</tspan><tspan font-size="38" dy="13">6</tspan></text>
<text x="1018.5" y="812.6" font-size="63" textLength="206" lengthAdjust="spacingAndGlyphs">Si-C<tspan font-size="38" dy="14">6</tspan><tspan dy="-14">H</tspan><tspan font-size="38" dy="14">6</tspan></text>
<text x="1357" y="89" font-size="42" textLength="91.5" lengthAdjust="spacingAndGlyphs">1074</text>
<text x="364.5" y="852.5" font-size="62" textLength="120" lengthAdjust="spacingAndGlyphs">-OH</text>
<text x="354.5" y="966.6" font-size="60" textLength="126" lengthAdjust="spacingAndGlyphs">3340</text>
<text x="1030.5" y="937.8" font-size="42" textLength="91.5" lengthAdjust="spacingAndGlyphs">1582</text>
<text x="1121.5" y="974.7" font-size="42" textLength="89" lengthAdjust="spacingAndGlyphs">1433</text>
<text x="1274" y="1110.8" font-size="42" textLength="91" lengthAdjust="spacingAndGlyphs">1035</text>
</g>
<g id="ticklabels" text-anchor="middle">
<text class="b" x="137.5" y="1217" font-size="69.5" textLength="150" lengthAdjust="spacingAndGlyphs">4000</text>
<text class="b" x="355.1" y="1217" font-size="69.5" textLength="150" lengthAdjust="spacingAndGlyphs">3500</text>
<text class="b" x="572.7" y="1217" font-size="69.5" textLength="150" lengthAdjust="spacingAndGlyphs">3000</text>
<text class="b" x="790.3" y="1217" font-size="69.5" textLength="150" lengthAdjust="spacingAndGlyphs">2500</text>
<text class="b" x="1007.9" y="1217" font-size="69.5" textLength="150" lengthAdjust="spacingAndGlyphs">2000</text>
<text class="b" x="1225.5" y="1217" font-size="69.5" textLength="150" lengthAdjust="spacingAndGlyphs">1500</text>
<text class="b" x="1443.1" y="1217" font-size="69.5" textLength="150" lengthAdjust="spacingAndGlyphs">1000</text>
<text class="b" x="1660.7" y="1217" font-size="69.5" textLength="112" lengthAdjust="spacingAndGlyphs">500</text>
</g>
<g id="xtitle">
<text class="b" x="506" y="1304.6" font-size="80.5" textLength="523" lengthAdjust="spacingAndGlyphs">Wavenumber</text>
<text class="cjk" transform="translate(1014.6,1302.5) scale(1.5,0.99)" x="0" y="0" font-size="70">（</text>
<text class="b" x="1120" y="1304.6" font-size="80.5" textLength="114" lengthAdjust="spacingAndGlyphs">cm</text>
<text class="b" x="1235.5" y="1272" font-size="57" textLength="51" lengthAdjust="spacingAndGlyphs">-1</text>
<text class="cjk" transform="translate(1293.5,1302) scale(1.5,0.99)" x="0" y="0" font-size="70">）</text>
</g>
<g id="ytitle" transform="translate(79.4,946) rotate(-90)">
<text class="b" x="0" y="0" font-size="95" textLength="510" lengthAdjust="spacingAndGlyphs">Transmittance</text>
<text class="cjk" transform="translate(497,-5.5) scale(1.25,1.03)" x="0" y="0" font-size="74">（</text>
<text class="b" x="580.5" y="0" font-size="94" textLength="98.5" lengthAdjust="spacingAndGlyphs">%</text>
<text class="cjk" transform="translate(681,-5.5) scale(1.25,1.03)" x="0" y="0" font-size="74">）</text>
</g>
</svg></body></html>
